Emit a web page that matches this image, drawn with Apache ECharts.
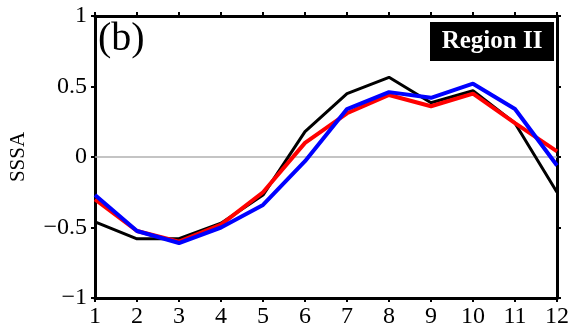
<!DOCTYPE html>
<html>
<head>
<meta charset="utf-8">
<script src="https://cdn.jsdelivr.net/npm/echarts@6/dist/echarts.min.js"></script>
<style>
  html, body { margin: 0; padding: 0; background: #fff; }
  #chart { width: 572px; height: 330px; }
</style>
</head>
<body>
<div id="chart"></div>
<script>
const months = ["1", "2", "3", "4", "5", "6", "7", "8", "9", "10", "11", "12"];
const blackLine = [-0.46, -0.58, -0.58, -0.47, -0.27, 0.18, 0.45, 0.565, 0.385, 0.47, 0.24, -0.25];
const redLine = [-0.30, -0.525, -0.60, -0.48, -0.25, 0.10, 0.31, 0.44, 0.36, 0.45, 0.24, 0.04];
const blueLine = [-0.27, -0.525, -0.61, -0.50, -0.34, -0.03, 0.34, 0.46, 0.42, 0.52, 0.34, -0.06];
const yTicks = [-1, -0.5, 0, 0.5, 1];

const chart = echarts.init(document.getElementById("chart"));
const font = "Liberation Serif";

const lineSeries = (name, values, color, width) => ({
  name: name,
  type: "line",
  data: values,
  symbol: "none",
  lineStyle: { color: color, width: width },
  itemStyle: { color: color },
  z: 3,
});

const frameLine = { onZero: false, lineStyle: { color: "#000", width: 3 } };
const frameTick = { show: true, length: 4, lineStyle: { color: "#000", width: 2 } };

const option = {
  animation: false,
  grid: { left: 95, right: 13, top: 16, bottom: 32 },
  xAxis: [
    {
      type: "category",
      data: months,
      boundaryGap: false,
      axisLine: frameLine,
      axisTick: frameTick,
      axisLabel: { color: "#000", fontFamily: font, fontSize: 24, margin: 7 },
      splitLine: { show: false },
    },
    {
      type: "category",
      data: months,
      position: "top",
      boundaryGap: false,
      axisLine: frameLine,
      axisTick: frameTick,
      axisLabel: { show: false },
    },
  ],
  yAxis: [
    {
      type: "value",
      min: -1,
      max: 1,
      interval: 0.5,
      name: "SSSA",
      nameLocation: "middle",
      nameGap: 66,
      nameTextStyle: { color: "#000", fontFamily: font, fontSize: 21 },
      axisLine: { show: true, lineStyle: { color: "#000", width: 3 } },
      axisTick: frameTick,
      axisLabel: {
        color: "#000",
        fontFamily: font,
        fontSize: 24,
        margin: 8,
        formatter: (v) => (yTicks.includes(v) ? String(v).replace("-", "\u2212") : ""),
      },
      splitLine: { show: false },
    },
    {
      type: "value",
      min: -1,
      max: 1,
      interval: 0.5,
      position: "right",
      axisLine: { show: true, lineStyle: { color: "#000", width: 3 } },
      axisTick: frameTick,
      axisLabel: { show: false },
      splitLine: { show: false },
    },
  ],
  series: [
    Object.assign(lineSeries("black", blackLine, "#000000", 3), {
      markLine: {
        silent: true,
        symbol: "none",
        label: { show: false },
        lineStyle: { color: "#b0b0b0", width: 1.5, type: "solid" },
        data: [{ yAxis: 0 }],
        z: 1,
      },
    }),
    lineSeries("red", redLine, "#ff0000", 4),
    lineSeries("blue", blueLine, "#0000ff", 4),
  ],
  graphic: [
    {
      type: "text",
      left: 98,
      top: 19,
      style: { text: "(b)", font: "40px 'Liberation Serif'", fill: "#000" },
    },
    {
      type: "group",
      left: 430,
      top: 22,
      children: [
        { type: "rect", shape: { x: 0, y: 0, width: 124, height: 39 }, style: { fill: "#000" } },
        {
          type: "text",
          x: 62,
          y: 20,
          style: {
            text: "Region II",
            font: "bold 25px 'Liberation Serif'",
            fill: "#fff",
            align: "center",
            verticalAlign: "middle",
          },
        },
      ],
    },
  ],
};

chart.setOption(option);
</script>
</body>
</html>
